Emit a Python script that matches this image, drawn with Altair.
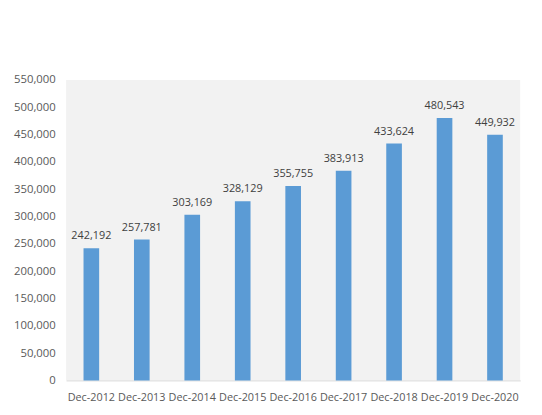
import altair as alt
import pandas as pd

periods = ["Dec-2012", "Dec-2013", "Dec-2014", "Dec-2015", "Dec-2016",
           "Dec-2017", "Dec-2018", "Dec-2019", "Dec-2020"]
values = [242192, 257781, 303169, 328129, 355755, 383913, 433624, 480543, 449932]
y_ticks = list(range(0, 550001, 50000))

df = pd.DataFrame({"period": periods, "value": values})
FONT = "Open Sans"

base = alt.Chart(df).encode(
    x=alt.X("period:N", sort=periods, title=None,
            scale=alt.Scale(paddingInner=0.69, paddingOuter=0.345),
            axis=alt.Axis(labelAngle=0, labelFont=FONT, labelFontSize=11,
                          labelColor="#595959", ticks=False, domainColor="#d9d9d9",
                          labelPadding=11)),
    y=alt.Y("value:Q", title=None,
            scale=alt.Scale(domain=[0, 550000], nice=False),
            axis=alt.Axis(values=y_ticks, format=",.0f", grid=False, domain=False,
                          ticks=False, labelFont=FONT, labelFontSize=11.5,
                          labelColor="#595959", labelPadding=11)),
)

bars = base.mark_bar(color="#5b9bd5")
labels = base.mark_text(dy=-12, font=FONT, fontSize=11, color="#404040").encode(
    text=alt.Text("value:Q", format=",.0f")
)

chart = (bars + labels).properties(
    width=461, height=305,
    autosize=alt.AutoSizeParams(type="none"),
    padding={"left": 59, "top": 70, "right": 14, "bottom": 32},
    background="white",
).configure_view(fill="#f2f2f2", stroke=None)

chart.save("out.html", embed_options={"renderer": "svg", "actions": False})
